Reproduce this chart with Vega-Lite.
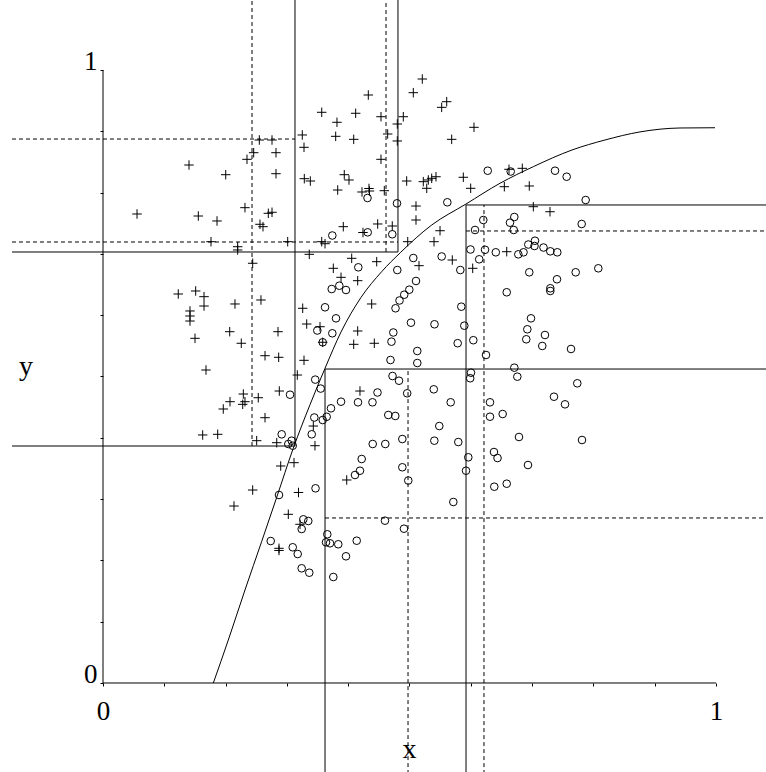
{
  "$schema": "https://vega.github.io/schema/vega-lite/v6.json",
  "width": 766,
  "height": 772,
  "autosize": {"type": "none"},
  "padding": 0,
  "background": "white",
  "config": {"view": {"stroke": null}, "font": "Liberation Serif", "text": {"font": "Liberation Serif"}},
  "datasets": {
    "solid": [
      {"x": 0, "y": 0, "x2": 0, "y2": 1},
      {"x": 0, "y": 0, "x2": 1, "y2": 0},
      {"x": 0.3132, "y": 0.3866, "x2": 0.3132, "y2": 1.13},
      {"x": -0.1485, "y": 0.3866, "x2": 0.3132, "y2": 0.3866},
      {"x": 0.4812, "y": 0.7031, "x2": 0.4812, "y2": 1.13},
      {"x": -0.1485, "y": 0.7031, "x2": 0.4812, "y2": 0.7031},
      {"x": 0.3622, "y": -0.16, "x2": 0.3622, "y2": 0.5122},
      {"x": 0.3622, "y": 0.5122, "x2": 1.1, "y2": 0.5122},
      {"x": 0.5922, "y": -0.16, "x2": 0.5922, "y2": 0.7798},
      {"x": 0.5922, "y": 0.7798, "x2": 1.1, "y2": 0.7798}
    ],
    "dashed": [
      {"x": 0.2431, "y": 0.3866, "x2": 0.2431, "y2": 1.13},
      {"x": -0.1485, "y": 0.8874, "x2": 0.3132, "y2": 0.8874},
      {"x": 0.4617, "y": 0.7031, "x2": 0.4617, "y2": 1.13},
      {"x": -0.1485, "y": 0.7194, "x2": 0.4812, "y2": 0.7194},
      {"x": 0.4976, "y": -0.16, "x2": 0.4976, "y2": 0.5122},
      {"x": 0.3622, "y": 0.2692, "x2": 1.1, "y2": 0.2692},
      {"x": 0.6215, "y": -0.16, "x2": 0.6215, "y2": 0.7798},
      {"x": 0.5922, "y": 0.7374, "x2": 1.1, "y2": 0.7374}
    ],
    "curve": [
      {"x": 0.180, "y": 0.0},
      {"x": 0.2044, "y": 0.0701},
      {"x": 0.2316, "y": 0.1517},
      {"x": 0.2589, "y": 0.2310},
      {"x": 0.2834, "y": 0.3030},
      {"x": 0.3104, "y": 0.3830},
      {"x": 0.3377, "y": 0.4540},
      {"x": 0.3622, "y": 0.5134},
      {"x": 0.3883, "y": 0.5726},
      {"x": 0.4209, "y": 0.6290},
      {"x": 0.4546, "y": 0.6710},
      {"x": 0.4856, "y": 0.7026},
      {"x": 0.5362, "y": 0.7471},
      {"x": 0.5922, "y": 0.7814},
      {"x": 0.6476, "y": 0.8152},
      {"x": 0.7020, "y": 0.8423},
      {"x": 0.7651, "y": 0.8695},
      {"x": 0.8189, "y": 0.8858},
      {"x": 0.8760, "y": 0.8990},
      {"x": 0.9413, "y": 0.9054},
      {"x": 0.9984, "y": 0.9058}
    ],
    "points": [
      {"c": "+", "x": 0.3568, "y": 0.9310},
      {"c": "+", "x": 0.4122, "y": 0.9294},
      {"c": "+", "x": 0.3817, "y": 0.9147},
      {"c": "+", "x": 0.3251, "y": 0.8940},
      {"c": "+", "x": 0.3796, "y": 0.8918},
      {"c": "+", "x": 0.4090, "y": 0.8869},
      {"c": "+", "x": 0.2550, "y": 0.8858},
      {"c": "+", "x": 0.2757, "y": 0.8858},
      {"c": "+", "x": 0.3279, "y": 0.8739},
      {"c": "+", "x": 0.2458, "y": 0.8651},
      {"c": "+", "x": 0.2822, "y": 0.8651},
      {"c": "+", "x": 0.2349, "y": 0.8543},
      {"c": "+", "x": 0.1403, "y": 0.8450},
      {"c": "+", "x": 0.2002, "y": 0.8292},
      {"c": "+", "x": 0.2822, "y": 0.8308},
      {"c": "+", "x": 0.3284, "y": 0.8227},
      {"c": "+", "x": 0.3382, "y": 0.8189},
      {"c": "+", "x": 0.3936, "y": 0.8292},
      {"c": "+", "x": 0.4013, "y": 0.8206},
      {"c": "+", "x": 0.3829, "y": 0.8042},
      {"c": "+", "x": 0.4225, "y": 0.8010},
      {"c": "+", "x": 0.0555, "y": 0.7651},
      {"c": "+", "x": 0.1555, "y": 0.7618},
      {"c": "+", "x": 0.1860, "y": 0.7537},
      {"c": "+", "x": 0.2316, "y": 0.7754},
      {"c": "+", "x": 0.2697, "y": 0.7662},
      {"c": "+", "x": 0.2757, "y": 0.7679},
      {"c": "+", "x": 0.2561, "y": 0.7483},
      {"c": "+", "x": 0.2610, "y": 0.7444},
      {"c": "+", "x": 0.3920, "y": 0.7444},
      {"c": "+", "x": 0.4241, "y": 0.7349},
      {"c": "+", "x": 0.1762, "y": 0.7199},
      {"c": "+", "x": 0.3013, "y": 0.7199},
      {"c": "+", "x": 0.3568, "y": 0.7199},
      {"c": "+", "x": 0.3622, "y": 0.7166},
      {"c": "+", "x": 0.5209, "y": 0.9853},
      {"c": "+", "x": 0.5062, "y": 0.9630},
      {"c": "+", "x": 0.4328, "y": 0.9592},
      {"c": "+", "x": 0.5607, "y": 0.9483},
      {"c": "+", "x": 0.5525, "y": 0.9391},
      {"c": "+", "x": 0.4535, "y": 0.9238},
      {"c": "+", "x": 0.4899, "y": 0.9238},
      {"c": "+", "x": 0.4801, "y": 0.9119},
      {"c": "+", "x": 0.6052, "y": 0.9065},
      {"c": "+", "x": 0.4644, "y": 0.8956},
      {"c": "+", "x": 0.5688, "y": 0.8869},
      {"c": "+", "x": 0.4801, "y": 0.8842},
      {"c": "+", "x": 0.4535, "y": 0.8543},
      {"c": "+", "x": 0.4954, "y": 0.8189},
      {"c": "+", "x": 0.5225, "y": 0.8178},
      {"c": "+", "x": 0.5307, "y": 0.8206},
      {"c": "+", "x": 0.5362, "y": 0.8233},
      {"c": "+", "x": 0.5432, "y": 0.8259},
      {"c": "+", "x": 0.5281, "y": 0.8070},
      {"c": "+", "x": 0.5878, "y": 0.8250},
      {"c": "+", "x": 0.5998, "y": 0.8070},
      {"c": "+", "x": 0.4339, "y": 0.8067},
      {"c": "+", "x": 0.4347, "y": 0.8026},
      {"c": "+", "x": 0.4589, "y": 0.8031},
      {"c": "+", "x": 0.6623, "y": 0.8380},
      {"c": "+", "x": 0.6840, "y": 0.8396},
      {"c": "+", "x": 0.6547, "y": 0.8096},
      {"c": "+", "x": 0.6954, "y": 0.8108},
      {"c": "+", "x": 0.5106, "y": 0.7781},
      {"c": "+", "x": 0.5106, "y": 0.7553},
      {"c": "+", "x": 0.4481, "y": 0.7488},
      {"c": "+", "x": 0.4719, "y": 0.7455},
      {"c": "+", "x": 0.7020, "y": 0.7770},
      {"c": "+", "x": 0.7292, "y": 0.7688},
      {"c": "+", "x": 0.5498, "y": 0.7378},
      {"c": "+", "x": 0.5400, "y": 0.7199},
      {"c": "+", "x": 0.4971, "y": 0.7199},
      {"c": "+", "x": 0.5698, "y": 0.6900},
      {"c": "+", "x": 0.5155, "y": 0.6808},
      {"c": "+", "x": 0.6031, "y": 0.6765},
      {"c": "+", "x": 0.6586, "y": 0.7036},
      {"c": "+", "x": 0.4465, "y": 0.6873},
      {"c": "+", "x": 0.4383, "y": 0.6183},
      {"c": "+", "x": 0.4426, "y": 0.5542},
      {"c": "+", "x": 0.2197, "y": 0.7117},
      {"c": "+", "x": 0.2197, "y": 0.7064},
      {"c": "+", "x": 0.3365, "y": 0.6993},
      {"c": "+", "x": 0.4057, "y": 0.6928},
      {"c": "+", "x": 0.2442, "y": 0.6847},
      {"c": "+", "x": 0.3757, "y": 0.6765},
      {"c": "+", "x": 0.3883, "y": 0.6618},
      {"c": "+", "x": 0.4155, "y": 0.6563},
      {"c": "+", "x": 0.1228, "y": 0.6346},
      {"c": "+", "x": 0.1512, "y": 0.6395},
      {"c": "+", "x": 0.1648, "y": 0.6302},
      {"c": "+", "x": 0.1648, "y": 0.6150},
      {"c": "+", "x": 0.2153, "y": 0.6183},
      {"c": "+", "x": 0.2577, "y": 0.6248},
      {"c": "+", "x": 0.1419, "y": 0.6069},
      {"c": "+", "x": 0.1419, "y": 0.5987},
      {"c": "+", "x": 0.1419, "y": 0.5905},
      {"c": "+", "x": 0.3258, "y": 0.6113},
      {"c": "+", "x": 0.3323, "y": 0.5856},
      {"c": "+", "x": 0.3540, "y": 0.5812},
      {"c": "+", "x": 0.4155, "y": 0.5742},
      {"c": "+", "x": 0.4090, "y": 0.5525},
      {"c": "+", "x": 0.2067, "y": 0.5731},
      {"c": "+", "x": 0.2855, "y": 0.5731},
      {"c": "+", "x": 0.1501, "y": 0.5623},
      {"c": "+", "x": 0.2256, "y": 0.5542},
      {"c": "+", "x": 0.3584, "y": 0.5558},
      {"c": "+", "x": 0.2643, "y": 0.5339},
      {"c": "+", "x": 0.2866, "y": 0.5313},
      {"c": "+", "x": 0.3279, "y": 0.5264},
      {"c": "+", "x": 0.1680, "y": 0.5106},
      {"c": "+", "x": 0.3170, "y": 0.5024},
      {"c": "+", "x": 0.2876, "y": 0.4763},
      {"c": "+", "x": 0.2289, "y": 0.4714},
      {"c": "+", "x": 0.2316, "y": 0.4589},
      {"c": "+", "x": 0.2279, "y": 0.4546},
      {"c": "+", "x": 0.2072, "y": 0.4589},
      {"c": "+", "x": 0.1962, "y": 0.4470},
      {"c": "+", "x": 0.2533, "y": 0.4654},
      {"c": "+", "x": 0.2643, "y": 0.4328},
      {"c": "+", "x": 0.4192, "y": 0.4763},
      {"c": "+", "x": 0.1626, "y": 0.4046},
      {"c": "+", "x": 0.1871, "y": 0.4057},
      {"c": "+", "x": 0.2507, "y": 0.3953},
      {"c": "+", "x": 0.2834, "y": 0.3920},
      {"c": "+", "x": 0.3458, "y": 0.3871},
      {"c": "+", "x": 0.3431, "y": 0.4192},
      {"c": "+", "x": 0.2899, "y": 0.3540},
      {"c": "+", "x": 0.3116, "y": 0.3594},
      {"c": "+", "x": 0.2442, "y": 0.3148},
      {"c": "+", "x": 0.3189, "y": 0.3108},
      {"c": "+", "x": 0.3976, "y": 0.3312},
      {"c": "+", "x": 0.2137, "y": 0.2887},
      {"c": "+", "x": 0.3023, "y": 0.2752},
      {"c": "+", "x": 0.3214, "y": 0.2589},
      {"c": "+", "x": 0.2871, "y": 0.2197},
      {"c": "+", "x": 0.2871, "y": 0.2162},
      {"c": "o", "x": 0.3741, "y": 0.7300},
      {"c": "o", "x": 0.6276, "y": 0.8357},
      {"c": "o", "x": 0.6651, "y": 0.8344},
      {"c": "o", "x": 0.7374, "y": 0.8357},
      {"c": "o", "x": 0.7564, "y": 0.8259},
      {"c": "o", "x": 0.4315, "y": 0.7912},
      {"c": "o", "x": 0.4796, "y": 0.7825},
      {"c": "o", "x": 0.5617, "y": 0.7842},
      {"c": "o", "x": 0.7874, "y": 0.7879},
      {"c": "o", "x": 0.4318, "y": 0.7352},
      {"c": "o", "x": 0.4719, "y": 0.7320},
      {"c": "o", "x": 0.6204, "y": 0.7553},
      {"c": "o", "x": 0.6069, "y": 0.7390},
      {"c": "o", "x": 0.6639, "y": 0.7509},
      {"c": "o", "x": 0.6710, "y": 0.7602},
      {"c": "o", "x": 0.6700, "y": 0.7390},
      {"c": "o", "x": 0.7809, "y": 0.7488},
      {"c": "o", "x": 0.6938, "y": 0.7153},
      {"c": "o", "x": 0.7047, "y": 0.7215},
      {"c": "o", "x": 0.7039, "y": 0.7129},
      {"c": "o", "x": 0.7186, "y": 0.7104},
      {"c": "o", "x": 0.7297, "y": 0.7042},
      {"c": "o", "x": 0.7411, "y": 0.7026},
      {"c": "o", "x": 0.5995, "y": 0.7072},
      {"c": "o", "x": 0.6232, "y": 0.7067},
      {"c": "o", "x": 0.6408, "y": 0.7026},
      {"c": "o", "x": 0.6775, "y": 0.6993},
      {"c": "o", "x": 0.6860, "y": 0.7026},
      {"c": "o", "x": 0.6137, "y": 0.6912},
      {"c": "o", "x": 0.5525, "y": 0.6958},
      {"c": "o", "x": 0.5062, "y": 0.6933},
      {"c": "o", "x": 0.5829, "y": 0.6737},
      {"c": "o", "x": 0.4801, "y": 0.6737},
      {"c": "o", "x": 0.6954, "y": 0.6700},
      {"c": "o", "x": 0.7406, "y": 0.6586},
      {"c": "o", "x": 0.7711, "y": 0.6700},
      {"c": "o", "x": 0.8080, "y": 0.6765},
      {"c": "o", "x": 0.7297, "y": 0.6439},
      {"c": "o", "x": 0.7297, "y": 0.6395},
      {"c": "o", "x": 0.6586, "y": 0.6374},
      {"c": "o", "x": 0.5106, "y": 0.6558},
      {"c": "o", "x": 0.4997, "y": 0.6416},
      {"c": "o", "x": 0.4914, "y": 0.6334},
      {"c": "o", "x": 0.4837, "y": 0.6240},
      {"c": "o", "x": 0.4772, "y": 0.6113},
      {"c": "o", "x": 0.5845, "y": 0.6139},
      {"c": "o", "x": 0.5024, "y": 0.5878},
      {"c": "o", "x": 0.5408, "y": 0.5852},
      {"c": "o", "x": 0.5894, "y": 0.5829},
      {"c": "o", "x": 0.6982, "y": 0.5949},
      {"c": "o", "x": 0.6922, "y": 0.5770},
      {"c": "o", "x": 0.7210, "y": 0.5677},
      {"c": "o", "x": 0.6905, "y": 0.5607},
      {"c": "o", "x": 0.7166, "y": 0.5498},
      {"c": "o", "x": 0.7635, "y": 0.5449},
      {"c": "o", "x": 0.4736, "y": 0.5718},
      {"c": "o", "x": 0.4706, "y": 0.5568},
      {"c": "o", "x": 0.5786, "y": 0.5543},
      {"c": "o", "x": 0.6041, "y": 0.5592},
      {"c": "o", "x": 0.5127, "y": 0.5416},
      {"c": "o", "x": 0.5127, "y": 0.5220},
      {"c": "o", "x": 0.4690, "y": 0.5269},
      {"c": "o", "x": 0.6248, "y": 0.5351},
      {"c": "o", "x": 0.6710, "y": 0.5144},
      {"c": "o", "x": 0.6759, "y": 0.4997},
      {"c": "o", "x": 0.6003, "y": 0.5062},
      {"c": "o", "x": 0.5990, "y": 0.4971},
      {"c": "o", "x": 0.4723, "y": 0.5008},
      {"c": "o", "x": 0.4829, "y": 0.4931},
      {"c": "o", "x": 0.4962, "y": 0.4726},
      {"c": "o", "x": 0.4478, "y": 0.4739},
      {"c": "o", "x": 0.4396, "y": 0.4579},
      {"c": "o", "x": 0.5396, "y": 0.4791},
      {"c": "o", "x": 0.5672, "y": 0.4579},
      {"c": "o", "x": 0.6313, "y": 0.4579},
      {"c": "o", "x": 0.6520, "y": 0.4388},
      {"c": "o", "x": 0.6313, "y": 0.4344},
      {"c": "o", "x": 0.7357, "y": 0.4670},
      {"c": "o", "x": 0.7537, "y": 0.4546},
      {"c": "o", "x": 0.7737, "y": 0.4889},
      {"c": "o", "x": 0.4654, "y": 0.4372},
      {"c": "o", "x": 0.4768, "y": 0.4356},
      {"c": "o", "x": 0.4165, "y": 0.6781},
      {"c": "o", "x": 0.3731, "y": 0.6427},
      {"c": "o", "x": 0.3855, "y": 0.6481},
      {"c": "o", "x": 0.3964, "y": 0.6411},
      {"c": "o", "x": 0.3622, "y": 0.6129},
      {"c": "o", "x": 0.3801, "y": 0.5949},
      {"c": "o", "x": 0.3496, "y": 0.5750},
      {"c": "o", "x": 0.3741, "y": 0.5705},
      {"c": "o", "x": 0.3584, "y": 0.5558},
      {"c": "o", "x": 0.3462, "y": 0.4949},
      {"c": "o", "x": 0.3551, "y": 0.4803},
      {"c": "o", "x": 0.3051, "y": 0.4703},
      {"c": "o", "x": 0.3883, "y": 0.4589},
      {"c": "o", "x": 0.4160, "y": 0.4579},
      {"c": "o", "x": 0.3719, "y": 0.4481},
      {"c": "o", "x": 0.3447, "y": 0.4331},
      {"c": "o", "x": 0.3584, "y": 0.4290},
      {"c": "o", "x": 0.3649, "y": 0.4343},
      {"c": "o", "x": 0.3405, "y": 0.4057},
      {"c": "o", "x": 0.2915, "y": 0.4057},
      {"c": "o", "x": 0.3078, "y": 0.3953},
      {"c": "o", "x": 0.3023, "y": 0.3899},
      {"c": "o", "x": 0.3095, "y": 0.3871},
      {"c": "o", "x": 0.4400, "y": 0.3899},
      {"c": "o", "x": 0.4605, "y": 0.3899},
      {"c": "o", "x": 0.4883, "y": 0.3980},
      {"c": "o", "x": 0.5405, "y": 0.3953},
      {"c": "o", "x": 0.5796, "y": 0.3931},
      {"c": "o", "x": 0.5486, "y": 0.4192},
      {"c": "o", "x": 0.4220, "y": 0.3654},
      {"c": "o", "x": 0.4192, "y": 0.3463},
      {"c": "o", "x": 0.4111, "y": 0.3393},
      {"c": "o", "x": 0.4883, "y": 0.3519},
      {"c": "o", "x": 0.4980, "y": 0.3303},
      {"c": "o", "x": 0.5959, "y": 0.3682},
      {"c": "o", "x": 0.5922, "y": 0.3463},
      {"c": "o", "x": 0.3467, "y": 0.3176},
      {"c": "o", "x": 0.2871, "y": 0.3067},
      {"c": "o", "x": 0.5715, "y": 0.2953},
      {"c": "o", "x": 0.6383, "y": 0.3202},
      {"c": "o", "x": 0.6586, "y": 0.3251},
      {"c": "o", "x": 0.6786, "y": 0.4013},
      {"c": "o", "x": 0.7814, "y": 0.3964},
      {"c": "o", "x": 0.6378, "y": 0.3768},
      {"c": "o", "x": 0.6436, "y": 0.3670},
      {"c": "o", "x": 0.6933, "y": 0.3556},
      {"c": "o", "x": 0.3268, "y": 0.2670},
      {"c": "o", "x": 0.3349, "y": 0.2643},
      {"c": "o", "x": 0.3241, "y": 0.2512},
      {"c": "o", "x": 0.3659, "y": 0.2426},
      {"c": "o", "x": 0.3638, "y": 0.2295},
      {"c": "o", "x": 0.3703, "y": 0.2279},
      {"c": "o", "x": 0.3838, "y": 0.2263},
      {"c": "o", "x": 0.4139, "y": 0.2321},
      {"c": "o", "x": 0.3964, "y": 0.2067},
      {"c": "o", "x": 0.3757, "y": 0.1729},
      {"c": "o", "x": 0.2736, "y": 0.2316},
      {"c": "o", "x": 0.3095, "y": 0.2214},
      {"c": "o", "x": 0.3176, "y": 0.2104},
      {"c": "o", "x": 0.3241, "y": 0.1871},
      {"c": "o", "x": 0.3365, "y": 0.1799},
      {"c": "o", "x": 0.4600, "y": 0.2648},
      {"c": "o", "x": 0.4910, "y": 0.2517}
    ],
    "titles": [
      {"label": "x", "x": 0.5, "y": -0.1223},
      {"label": "y", "x": -0.1256, "y": 0.5024}
    ]
  },
  "encoding": {
    "x": {"field": "x", "type": "quantitative", "title": null,
          "scale": {"domain": [-0.16803, 1.08157], "nice": false, "zero": false},
          "axis": {"values": [0, 0.1, 0.2, 0.3, 0.4, 0.5, 0.6, 0.7, 0.8, 0.9, 1], "offset": -89, "domain": false, "grid": false,
                   "ticks": true, "tickSize": 3, "tickColor": "black", "tickWidth": 1,
                   "labels": true,
                   "labelExpr": "datum.value == 0 ? '0' : (datum.value == 1 ? '1' : '')",
                   "labelFont": "Liberation Serif", "labelFontSize": 27, "labelColor": "black",
                   "labelBaseline": "alphabetic", "labelPadding": 33, "labelOverlap": false, "labelFlush": false, "labelBound": false}},
    "y": {"field": "y", "type": "quantitative", "title": null,
          "scale": {"domain": [-0.14519, 1.11419], "nice": false, "zero": false},
          "axis": {"values": [0, 0.1, 0.2, 0.3, 0.4, 0.5, 0.6, 0.7, 0.8, 0.9, 1], "offset": -103, "domain": false, "grid": false,
                   "ticks": true, "tickSize": 3, "tickColor": "black", "tickWidth": 1,
                   "labels": true,
                   "labelExpr": "datum.value == 0 ? '0' : (datum.value == 1 ? '1' : '')",
                   "labelFont": "Liberation Serif", "labelFontSize": 27, "labelColor": "black",
                   "labelBaseline": "alphabetic", "labelAlign": "right", "labelPadding": 3, "labelOverlap": false, "labelFlush": false, "labelBound": false}}
  },
  "layer": [
    {
      "data": {"name": "solid"},
      "mark": {"type": "rule", "color": "black", "strokeWidth": 1, "clip": true},
      "encoding": {"x2": {"field": "x2"}, "y2": {"field": "y2"}}
    },
    {
      "data": {"name": "dashed"},
      "mark": {"type": "rule", "color": "black", "strokeWidth": 1, "strokeDash": [4, 3], "clip": true},
      "encoding": {"x2": {"field": "x2"}, "y2": {"field": "y2"}}
    },
    {
      "data": {"name": "curve"},
      "mark": {"type": "line", "color": "black", "strokeWidth": 1, "interpolate": "monotone"},
      "encoding": {}
    },
    {
      "data": {"name": "points"},
      "transform": [{"filter": "datum.c == '+'"}],
      "mark": {"type": "point", "shape": "M-1,0H1M0,-1V1", "filled": false, "stroke": "black", "strokeWidth": 1, "size": 90, "opacity": 1},
      "encoding": {}
    },
    {
      "data": {"name": "points"},
      "transform": [{"filter": "datum.c == 'o'"}],
      "mark": {"type": "point", "shape": "circle", "filled": false, "stroke": "black", "strokeWidth": 1, "size": 58, "opacity": 1},
      "encoding": {}
    },
    {
      "data": {"name": "titles"},
      "mark": {"type": "text", "font": "Liberation Serif", "fontSize": 28, "fill": "black", "align": "center", "baseline": "alphabetic"},
      "encoding": {"text": {"field": "label"}}
    }
  ]
}
